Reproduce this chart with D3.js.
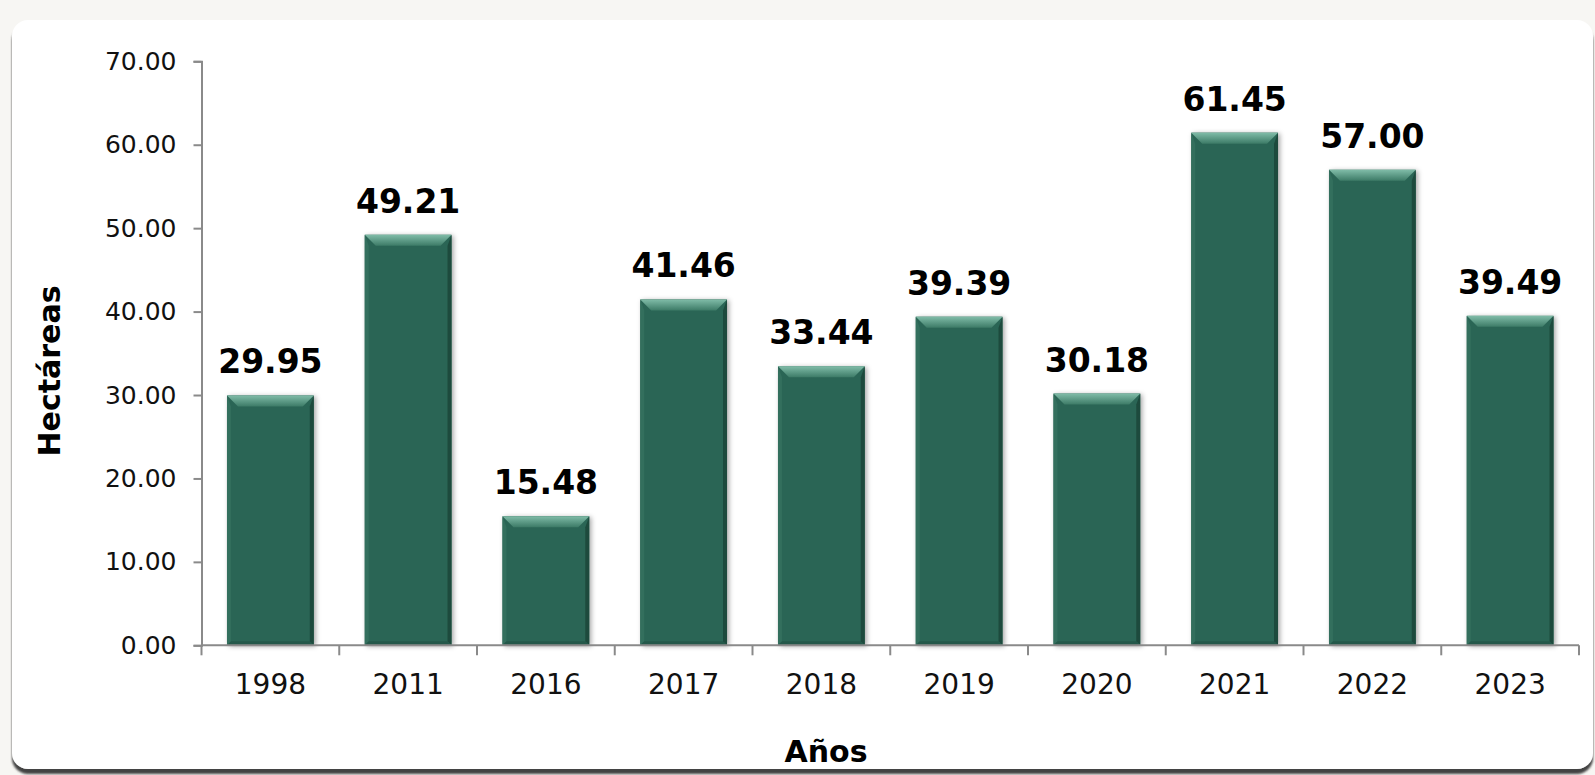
<!DOCTYPE html>
<html>
<head>
<meta charset="utf-8">
<script src="https://cdn.jsdelivr.net/npm/d3@7"></script>
<style>
    body { margin: 0; background: #f7f6f3; }
    svg { display: block; }
    .tick text { fill: #111; }
    .valText { font-family: "DejaVu Sans", sans-serif; font-weight: bold; font-size: 33px; fill: #000; }
    .axTitle { font-family: "DejaVu Sans", sans-serif; font-weight: bold; font-size: 30px; fill: #000; }
</style>
</head>
<body>
<div id="chartdiv"></div>
<script>
    // data
    const years = ["1998", "2011", "2016", "2017", "2018", "2019", "2020", "2021", "2022", "2023"];
    const hectareas = [29.95, 49.21, 15.48, 41.46, 33.44, 39.39, 30.18, 61.45, 57.00, 39.49];
    const yTicks = [0, 10, 20, 30, 40, 50, 60, 70];

    const W = 1595, H = 775;
    const svg = d3.select("#chartdiv").append("svg").attr("width", W).attr("height", H);

    const defs = svg.append("defs");
    const sh = defs.append("filter").attr("id", "barShadow")
        .attr("x", "-20%").attr("y", "-10%").attr("width", "140%").attr("height", "120%");
    sh.append("feDropShadow").attr("dx", 2).attr("dy", 1).attr("stdDeviation", 2.5)
        .attr("flood-color", "#000").attr("flood-opacity", 0.35);

    const cardSh = defs.append("filter").attr("id", "cardShadow")
        .attr("x", "-5%").attr("y", "-5%").attr("width", "110%").attr("height", "110%");
    cardSh.append("feDropShadow").attr("dx", 0).attr("dy", 5).attr("stdDeviation", 1)
        .attr("flood-color", "#3a3a3a").attr("flood-opacity", 0.95);

    const topGrad = defs.append("linearGradient").attr("id", "topGrad")
        .attr("x1", 0).attr("y1", 0).attr("x2", 0).attr("y2", 1);
    topGrad.append("stop").attr("offset", "0%").attr("stop-color", "#80bca8");
    topGrad.append("stop").attr("offset", "100%").attr("stop-color", "#3d7b67");

    // card
    svg.append("rect")
        .attr("x", 12).attr("y", 20).attr("width", W - 14).attr("height", H - 26)
        .attr("rx", 16).attr("fill", "#ffffff").attr("filter", "url(#cardShadow)");

    const x = d3.scaleBand().domain(years).range([201.5, 1579]).paddingInner(0.37).paddingOuter(0.185);
    const y = d3.scaleLinear().domain([0, 70]).range([645.3, 61.3]);

    // y axis
    const yAxis = svg.append("g").attr("transform", "translate(201.5,0)")
        .call(d3.axisLeft(y).tickValues(yTicks).tickSize(8).tickPadding(17).tickFormat(d3.format(".2f")));
    yAxis.selectAll("path, line").attr("stroke", "#8a8a8a").attr("stroke-width", 2);
    yAxis.selectAll("text").attr("font-family", "DejaVu Sans, sans-serif").attr("font-size", 25).attr("fill", "#111");

    // x axis labels
    const xAxis = svg.append("g").attr("transform", `translate(0,${y(0)})`)
        .call(d3.axisBottom(x).tickSize(0).tickPadding(29));
    xAxis.select(".domain").remove();
    xAxis.selectAll("text").attr("font-family", "DejaVu Sans, sans-serif").attr("font-size", 28).attr("fill", "#111");

    // bars
    const bw = x.bandwidth();
    const bev = 11;
    const bars = svg.append("g").selectAll("g").data(years).join("g");
    bars.append("rect")
        .attr("x", d => x(d)).attr("y", (d, i) => y(hectareas[i]))
        .attr("width", bw).attr("height", (d, i) => y(0) - y(hectareas[i]))
        .attr("fill", "#2b6554").attr("filter", "url(#barShadow)");
    // right darker bevel
    bars.append("path")
        .attr("d", (d, i) => {
            const x0 = x(d), t = y(hectareas[i]), b = y(0);
            return `M${x0 + bw},${t} L${x0 + bw},${b} L${x0 + bw - 4},${b - 4} L${x0 + bw - 4},${t + bev} Z`;
        })
        .attr("fill", "#1d4a3d");
    // left lighter bevel
    bars.append("path")
        .attr("d", (d, i) => {
            const x0 = x(d), t = y(hectareas[i]), b = y(0);
            return `M${x0},${t} L${x0 + 4},${t + bev} L${x0 + 4},${b - 4} L${x0},${b} Z`;
        })
        .attr("fill", "#336f5d");
    // bottom bevel
    bars.append("path")
        .attr("d", (d, i) => {
            const x0 = x(d), b = y(0);
            return `M${x0},${b} L${x0 + 4},${b - 4} L${x0 + bw - 4},${b - 4} L${x0 + bw},${b} Z`;
        })
        .attr("fill", "#24584a");
    // top bevel
    bars.append("path")
        .attr("d", (d, i) => {
            const x0 = x(d), t = y(hectareas[i]);
            return `M${x0},${t} L${x0 + bw},${t} L${x0 + bw - bev},${t + bev} L${x0 + bev},${t + bev} Z`;
        })
        .attr("fill", "url(#topGrad)");

    // baseline + boundary ticks
    const axisG = svg.append("g");
    axisG.append("line")
        .attr("x1", x.range()[0]).attr("x2", x.range()[1])
        .attr("y1", y(0)).attr("y2", y(0))
        .attr("stroke", "#8a8a8a").attr("stroke-width", 2);
    axisG.selectAll(".bt").data(d3.range(years.length + 1)).join("line")
        .attr("x1", i => x.range()[0] + i * x.step()).attr("x2", i => x.range()[0] + i * x.step())
        .attr("y1", y(0)).attr("y2", y(0) + 10)
        .attr("stroke", "#8a8a8a").attr("stroke-width", 2);

    // value labels
    svg.append("g").selectAll("text").data(years).join("text")
        .classed("valText", true)
        .attr("x", d => x(d) + bw / 2)
        .attr("y", (d, i) => y(hectareas[i]) - 22)
        .attr("text-anchor", "middle")
        .text((d, i) => hectareas[i].toFixed(2));

    // axis titles
    svg.append("text").classed("axTitle", true)
        .attr("transform", "translate(60,371) rotate(-90)")
        .attr("text-anchor", "middle")
        .text("Hectáreas");
    svg.append("text").classed("axTitle", true)
        .attr("x", 826).attr("y", 762)
        .attr("text-anchor", "middle")
        .text("Años");
</script>
</body>
</html>
